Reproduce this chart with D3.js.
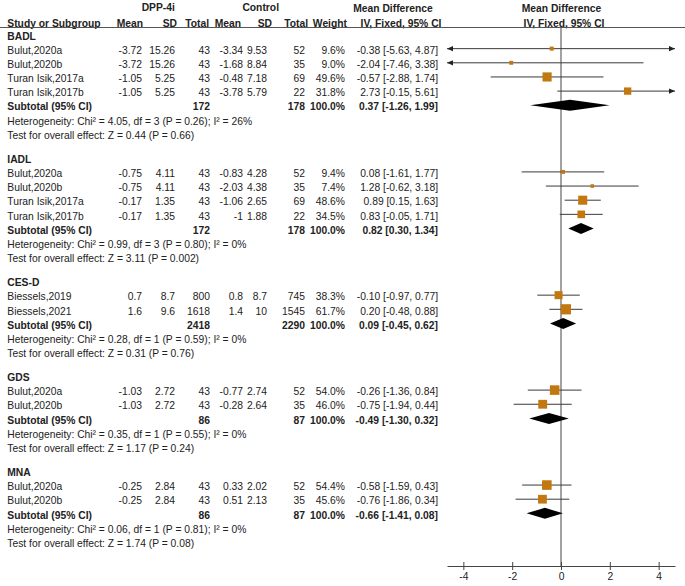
<!DOCTYPE html>
<html><head><meta charset="utf-8">
<script src="https://cdn.jsdelivr.net/npm/d3@7/dist/d3.min.js"></script>
<style>
body{margin:0;background:#fff}
svg text{font-family:"Liberation Sans",Arial,sans-serif;fill:#222}
</style>
</head><body>
<svg id="chart" width="685" height="586"></svg>
<script>
// ---------- DATA ----------
const groupNames = ["BADL", "IADL", "CES-D", "GDS", "MNA"];
const studyGroup = [0, 0, 0, 0, 1, 1, 1, 1, 2, 2, 3, 3, 4, 4];
const studyNames = ["Bulut,2020a", "Bulut,2020b", "Turan Isik,2017a", "Turan Isik,2017b",
  "Bulut,2020a", "Bulut,2020b", "Turan Isik,2017a", "Turan Isik,2017b",
  "Biessels,2019", "Biessels,2021",
  "Bulut,2020a", "Bulut,2020b",
  "Bulut,2020a", "Bulut,2020b"];
const expMean = [-3.72, -3.72, -1.05, -1.05, -0.75, -0.75, -0.17, -0.17, 0.7, 1.6, -1.03, -1.03, -0.25, -0.25];
const expSD   = [15.26, 15.26, 5.25, 5.25, 4.11, 4.11, 1.35, 1.35, 8.7, 9.6, 2.72, 2.72, 2.84, 2.84];
const expN    = [43, 43, 43, 43, 43, 43, 43, 43, 800, 1618, 43, 43, 43, 43];
const ctlMean = [-3.34, -1.68, -0.48, -3.78, -0.83, -2.03, -1.06, -1, 0.8, 1.4, -0.77, -0.28, 0.33, 0.51];
const ctlSD   = [9.53, 8.84, 7.18, 5.79, 4.28, 4.38, 2.65, 1.88, 8.7, 10, 2.74, 2.64, 2.02, 2.13];
const ctlN    = [52, 35, 69, 22, 52, 35, 69, 22, 745, 1545, 52, 35, 52, 35];
const weight  = [9.6, 9.0, 49.6, 31.8, 9.4, 7.4, 48.6, 34.5, 38.3, 61.7, 54.0, 46.0, 54.4, 45.6];
const md      = [-0.38, -2.04, -0.57, 2.73, 0.08, 1.28, 0.89, 0.83, -0.10, 0.20, -0.26, -0.75, -0.58, -0.76];
const ciLow   = [-5.63, -7.46, -2.88, -0.15, -1.61, -0.62, 0.15, -0.05, -0.97, -0.48, -1.36, -1.94, -1.59, -1.86];
const ciHigh  = [4.87, 3.38, 1.74, 5.61, 1.77, 3.18, 1.63, 1.71, 0.77, 0.88, 0.84, 0.44, 0.43, 0.34];

const subExpN = [172, 172, 2418, 86, 86];
const subCtlN = [178, 178, 2290, 87, 87];
const subMD   = [0.37, 0.82, 0.09, -0.49, -0.66];
const subLow  = [-1.26, 0.30, -0.45, -1.30, -1.41];
const subHigh = [1.99, 1.34, 0.62, 0.32, 0.08];
const hetChi  = ["4.05", "0.99", "0.28", "0.35", "0.06"];
const hetDf   = [3, 3, 1, 1, 1];
const hetP    = ["0.26", "0.80", "0.59", "0.55", "0.81"];
const hetI2   = [26, 0, 0, 0, 0];
const zVal    = ["0.44", "3.11", "0.31", "1.17", "1.74"];
const zP      = ["0.66", "0.002", "0.76", "0.24", "0.08"];

const axisTicks = [-4, -2, 0, 2, 4];
const axisDomain = [-4.67, 4.67];

// ---------- LAYOUT ----------
const svg = d3.select("#chart");
const FS = 10.3;
const rowStep = 14.15, groupGap = 24.2, firstRow = 36;
const col = {name: 7.3, meanE: 142, sdE: 175, nE: 210, meanC: 243, sdC: 267, nC: 305, w: 345, md: 438};
const x = d3.scaleLinear().domain(axisDomain).range([447, 675]);
const axisY = 566, headLineY = 27.5;
const sqColor = "#c3780f", lineColor = "#3a3a3a";

function txt(xp, cy, s, anchor, bold, size) {
  return svg.append("text").attr("x", xp).attr("y", cy + (size || FS) * 0.36)
    .attr("text-anchor", anchor || "start")
    .attr("font-size", size || FS)
    .attr("font-weight", bold ? "bold" : "normal")
    .text(s);
}
const fmtCI = (m, l, h) => `${m.toFixed(2)} [${l.toFixed(2)}, ${h.toFixed(2)}]`;

// header
txt(158.3, 7.5, "DPP-4i", "middle", true);
txt(260.7, 7.5, "Control", "middle", true);
txt(393, 8.3, "Mean Difference", "middle", true);
txt(561.5, 8.3, "Mean Difference", "middle", true);
const hy = 23.5;
txt(col.name, hy, "Study or Subgroup", "start", true);
txt(143, hy, "Mean", "end", true);
txt(177, hy, "SD", "end", true);
txt(209, hy, "Total", "end", true);
txt(241, hy, "Mean", "end", true);
txt(272, hy, "SD", "end", true);
txt(308, hy, "Total", "end", true);
txt(347, hy, "Weight", "end", true);
txt(401, hy, "IV, Fixed, 95% CI", "middle", true);
txt(564, hy, "IV, Fixed, 95% CI", "middle", true);

svg.append("line").attr("x1", 0).attr("x2", 685).attr("y1", headLineY).attr("y2", headLineY)
  .attr("stroke", "#555").attr("stroke-width", 1);

// zero line
svg.append("line").attr("x1", x(0)).attr("x2", x(0)).attr("y1", headLineY).attr("y2", axisY)
  .attr("stroke", "#555").attr("stroke-width", 1.1);

function arrow(xp, y, dir) {
  const L = 6, H = 2.6;
  svg.append("path")
    .attr("d", `M${xp},${y}L${xp - dir * L},${y - H}L${xp - dir * L},${y + H}Z`)
    .attr("fill", "#222");
}

let cy = firstRow;
groupNames.forEach((g, gi) => {
  txt(col.name, cy, g, "start", true);
  cy += rowStep;
  studyNames.forEach((nm, i) => {
    if (studyGroup[i] !== gi) return;
    txt(col.name, cy, nm);
    txt(col.meanE, cy, String(expMean[i]), "end");
    txt(col.sdE, cy, String(expSD[i]), "end");
    txt(col.nE, cy, String(expN[i]), "end");
    txt(col.meanC, cy, String(ctlMean[i]), "end");
    txt(col.sdC, cy, String(ctlSD[i]), "end");
    txt(col.nC, cy, String(ctlN[i]), "end");
    txt(col.w, cy, weight[i].toFixed(1) + "%", "end");
    txt(col.md, cy, fmtCI(md[i], ciLow[i], ciHigh[i]), "end");
    const my = cy - 1.5;
    const lo = Math.max(ciLow[i], axisDomain[0]), hi = Math.min(ciHigh[i], axisDomain[1]);
    svg.append("line").attr("x1", x(lo)).attr("x2", x(hi)).attr("y1", my).attr("y2", my)
      .attr("stroke", lineColor).attr("stroke-width", 1);
    if (ciLow[i] < axisDomain[0]) arrow(x(axisDomain[0]), my, -1);
    if (ciHigh[i] > axisDomain[1]) arrow(x(axisDomain[1]), my, 1);
    const s = 1.3 * Math.sqrt(weight[i]);
    svg.append("rect").attr("x", x(md[i]) - s / 2).attr("y", my - s / 2)
      .attr("width", s).attr("height", s).attr("fill", sqColor);
    cy += rowStep;
  });
  // subtotal
  txt(col.name, cy, "Subtotal (95% CI)", "start", true);
  txt(col.nE, cy, String(subExpN[gi]), "end", true);
  txt(col.nC, cy, String(subCtlN[gi]), "end", true);
  txt(col.w, cy, "100.0%", "end", true);
  txt(col.md, cy, fmtCI(subMD[gi], subLow[gi], subHigh[gi]), "end", true);
  const dy = cy - 1.5, hh = 5.5;
  svg.append("path")
    .attr("d", `M${x(subLow[gi])},${dy}L${x(subMD[gi])},${dy - hh}L${x(subHigh[gi])},${dy}L${x(subMD[gi])},${dy + hh}Z`)
    .attr("fill", "#000");
  cy += rowStep;
  txt(col.name, cy, `Heterogeneity: Chi² = ${hetChi[gi]}, df = ${hetDf[gi]} (P = ${hetP[gi]}); I² = ${hetI2[gi]}%`);
  cy += rowStep;
  txt(col.name, cy, `Test for overall effect: Z = ${zVal[gi]} (P = ${zP[gi]})`);
  cy += groupGap;
});

// axis
const ax = svg.append("g").attr("transform", `translate(0,${axisY})`)
  .call(d3.axisBottom(x).tickValues(axisTicks).tickSize(4).tickSizeOuter(0).tickFormat(d => String(d)));
ax.select(".domain").attr("stroke", "#444");
ax.selectAll(".tick line").attr("y1", -4).attr("y2", 4).attr("stroke", "#444");
ax.selectAll(".tick text").attr("font-size", FS).attr("fill", "#222")
  .attr("font-family", "Liberation Sans, Arial, sans-serif").attr("y", 7);
</script>
</body></html>
